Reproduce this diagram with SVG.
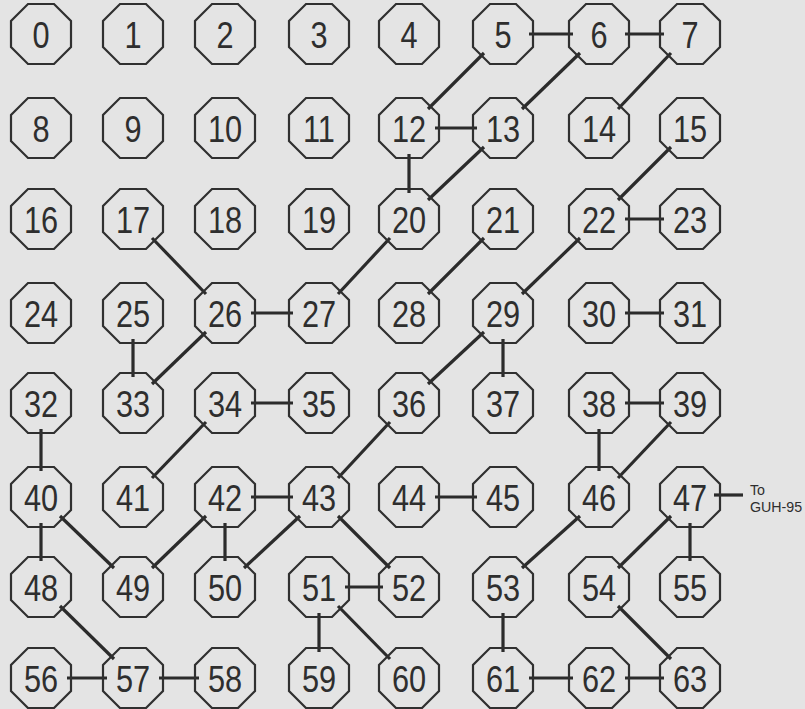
<svg xmlns="http://www.w3.org/2000/svg" xmlns:xlink="http://www.w3.org/1999/xlink" width="805" height="709" viewBox="0 0 805 709">
<style>
.oct{fill:none;stroke:#303030;stroke-width:2.2;stroke-linejoin:miter}
.t{font-family:"Liberation Sans",Arial,sans-serif;font-size:37px;fill:#2e2e2e;text-anchor:middle}
.c line{stroke:#2b2b2b;stroke-width:3.2;stroke-linecap:butt}
.lbl{font-family:"Liberation Sans",Arial,sans-serif;font-size:15px;fill:#2e2e2e}
</style>
<defs>
<polygon id="oct" class="oct" points="-13,-30 13,-30 30,-13 30,13 13,30 -13,30 -30,13 -30,-13"/>
</defs>
<rect width="805" height="709" fill="#e4e4e4"/>
<g id="connectors" class="c">
<line x1="529" y1="34" x2="573" y2="34"/>
<line x1="625" y1="34" x2="664" y2="34"/>
<line x1="484" y1="53" x2="428" y2="109"/>
<line x1="580" y1="53" x2="522" y2="109"/>
<line x1="671" y1="53" x2="618" y2="109"/>
<line x1="435" y1="128" x2="477" y2="128"/>
<line x1="409" y1="154" x2="409" y2="193"/>
<line x1="484" y1="147" x2="428" y2="200"/>
<line x1="671" y1="147" x2="618" y2="200"/>
<line x1="625" y1="219" x2="664" y2="219"/>
<line x1="152" y1="238" x2="206" y2="294"/>
<line x1="390" y1="238" x2="338" y2="294"/>
<line x1="484" y1="238" x2="428" y2="294"/>
<line x1="580" y1="238" x2="522" y2="294"/>
<line x1="251" y1="313" x2="293" y2="313"/>
<line x1="133" y1="339" x2="133" y2="377"/>
<line x1="206" y1="332" x2="152" y2="384"/>
<line x1="484" y1="332" x2="428" y2="384"/>
<line x1="503" y1="339" x2="503" y2="377"/>
<line x1="625" y1="313" x2="664" y2="313"/>
<line x1="251" y1="403" x2="293" y2="403"/>
<line x1="206" y1="422" x2="152" y2="478"/>
<line x1="390" y1="422" x2="338" y2="478"/>
<line x1="625" y1="403" x2="664" y2="403"/>
<line x1="599" y1="429" x2="599" y2="471"/>
<line x1="671" y1="422" x2="618" y2="478"/>
<line x1="41" y1="429" x2="41" y2="471"/>
<line x1="41" y1="523" x2="41" y2="561"/>
<line x1="60" y1="516" x2="114" y2="568"/>
<line x1="251" y1="497" x2="293" y2="497"/>
<line x1="206" y1="516" x2="152" y2="568"/>
<line x1="225" y1="523" x2="225" y2="561"/>
<line x1="300" y1="516" x2="244" y2="568"/>
<line x1="338" y1="516" x2="390" y2="568"/>
<line x1="435" y1="497" x2="477" y2="497"/>
<line x1="580" y1="516" x2="522" y2="568"/>
<line x1="671" y1="516" x2="618" y2="568"/>
<line x1="690" y1="523" x2="690" y2="561"/>
<line x1="714" y1="495" x2="743" y2="495"/>
<line x1="60" y1="606" x2="114" y2="659"/>
<line x1="345" y1="587" x2="383" y2="587"/>
<line x1="319" y1="613" x2="319" y2="652"/>
<line x1="338" y1="606" x2="390" y2="659"/>
<line x1="503" y1="613" x2="503" y2="652"/>
<line x1="618" y1="606" x2="671" y2="659"/>
<line x1="67" y1="678" x2="107" y2="678"/>
<line x1="159" y1="678" x2="199" y2="678"/>
<line x1="529" y1="678" x2="573" y2="678"/>
<line x1="625" y1="678" x2="664" y2="678"/>
</g>
<text class="lbl" transform="translate(750,495) scale(0.95,1)">To</text>
<text class="lbl" transform="translate(750,511.5) scale(0.95,1)">GUH-95</text>
<g id="n0" transform="translate(41,34)"><use href="#oct"/><text class="t" y="13.5" transform="scale(0.83,1)">0</text></g>
<g id="n1" transform="translate(133,34)"><use href="#oct"/><text class="t" y="13.5" transform="scale(0.83,1)">1</text></g>
<g id="n2" transform="translate(225,34)"><use href="#oct"/><text class="t" y="13.5" transform="scale(0.83,1)">2</text></g>
<g id="n3" transform="translate(319,34)"><use href="#oct"/><text class="t" y="13.5" transform="scale(0.83,1)">3</text></g>
<g id="n4" transform="translate(409,34)"><use href="#oct"/><text class="t" y="13.5" transform="scale(0.83,1)">4</text></g>
<g id="n5" transform="translate(503,34)"><use href="#oct"/><text class="t" y="13.5" transform="scale(0.83,1)">5</text></g>
<g id="n6" transform="translate(599,34)"><use href="#oct"/><text class="t" y="13.5" transform="scale(0.83,1)">6</text></g>
<g id="n7" transform="translate(690,34)"><use href="#oct"/><text class="t" y="13.5" transform="scale(0.83,1)">7</text></g>
<g id="n8" transform="translate(41,128)"><use href="#oct"/><text class="t" y="13.5" transform="scale(0.83,1)">8</text></g>
<g id="n9" transform="translate(133,128)"><use href="#oct"/><text class="t" y="13.5" transform="scale(0.83,1)">9</text></g>
<g id="n10" transform="translate(225,128)"><use href="#oct"/><text class="t" y="13.5" transform="scale(0.83,1)">10</text></g>
<g id="n11" transform="translate(319,128)"><use href="#oct"/><text class="t" y="13.5" transform="scale(0.83,1)">11</text></g>
<g id="n12" transform="translate(409,128)"><use href="#oct"/><text class="t" y="13.5" transform="scale(0.83,1)">12</text></g>
<g id="n13" transform="translate(503,128)"><use href="#oct"/><text class="t" y="13.5" transform="scale(0.83,1)">13</text></g>
<g id="n14" transform="translate(599,128)"><use href="#oct"/><text class="t" y="13.5" transform="scale(0.83,1)">14</text></g>
<g id="n15" transform="translate(690,128)"><use href="#oct"/><text class="t" y="13.5" transform="scale(0.83,1)">15</text></g>
<g id="n16" transform="translate(41,219)"><use href="#oct"/><text class="t" y="13.5" transform="scale(0.83,1)">16</text></g>
<g id="n17" transform="translate(133,219)"><use href="#oct"/><text class="t" y="13.5" transform="scale(0.83,1)">17</text></g>
<g id="n18" transform="translate(225,219)"><use href="#oct"/><text class="t" y="13.5" transform="scale(0.83,1)">18</text></g>
<g id="n19" transform="translate(319,219)"><use href="#oct"/><text class="t" y="13.5" transform="scale(0.83,1)">19</text></g>
<g id="n20" transform="translate(409,219)"><use href="#oct"/><text class="t" y="13.5" transform="scale(0.83,1)">20</text></g>
<g id="n21" transform="translate(503,219)"><use href="#oct"/><text class="t" y="13.5" transform="scale(0.83,1)">21</text></g>
<g id="n22" transform="translate(599,219)"><use href="#oct"/><text class="t" y="13.5" transform="scale(0.83,1)">22</text></g>
<g id="n23" transform="translate(690,219)"><use href="#oct"/><text class="t" y="13.5" transform="scale(0.83,1)">23</text></g>
<g id="n24" transform="translate(41,313)"><use href="#oct"/><text class="t" y="13.5" transform="scale(0.83,1)">24</text></g>
<g id="n25" transform="translate(133,313)"><use href="#oct"/><text class="t" y="13.5" transform="scale(0.83,1)">25</text></g>
<g id="n26" transform="translate(225,313)"><use href="#oct"/><text class="t" y="13.5" transform="scale(0.83,1)">26</text></g>
<g id="n27" transform="translate(319,313)"><use href="#oct"/><text class="t" y="13.5" transform="scale(0.83,1)">27</text></g>
<g id="n28" transform="translate(409,313)"><use href="#oct"/><text class="t" y="13.5" transform="scale(0.83,1)">28</text></g>
<g id="n29" transform="translate(503,313)"><use href="#oct"/><text class="t" y="13.5" transform="scale(0.83,1)">29</text></g>
<g id="n30" transform="translate(599,313)"><use href="#oct"/><text class="t" y="13.5" transform="scale(0.83,1)">30</text></g>
<g id="n31" transform="translate(690,313)"><use href="#oct"/><text class="t" y="13.5" transform="scale(0.83,1)">31</text></g>
<g id="n32" transform="translate(41,403)"><use href="#oct"/><text class="t" y="13.5" transform="scale(0.83,1)">32</text></g>
<g id="n33" transform="translate(133,403)"><use href="#oct"/><text class="t" y="13.5" transform="scale(0.83,1)">33</text></g>
<g id="n34" transform="translate(225,403)"><use href="#oct"/><text class="t" y="13.5" transform="scale(0.83,1)">34</text></g>
<g id="n35" transform="translate(319,403)"><use href="#oct"/><text class="t" y="13.5" transform="scale(0.83,1)">35</text></g>
<g id="n36" transform="translate(409,403)"><use href="#oct"/><text class="t" y="13.5" transform="scale(0.83,1)">36</text></g>
<g id="n37" transform="translate(503,403)"><use href="#oct"/><text class="t" y="13.5" transform="scale(0.83,1)">37</text></g>
<g id="n38" transform="translate(599,403)"><use href="#oct"/><text class="t" y="13.5" transform="scale(0.83,1)">38</text></g>
<g id="n39" transform="translate(690,403)"><use href="#oct"/><text class="t" y="13.5" transform="scale(0.83,1)">39</text></g>
<g id="n40" transform="translate(41,497)"><use href="#oct"/><text class="t" y="13.5" transform="scale(0.83,1)">40</text></g>
<g id="n41" transform="translate(133,497)"><use href="#oct"/><text class="t" y="13.5" transform="scale(0.83,1)">41</text></g>
<g id="n42" transform="translate(225,497)"><use href="#oct"/><text class="t" y="13.5" transform="scale(0.83,1)">42</text></g>
<g id="n43" transform="translate(319,497)"><use href="#oct"/><text class="t" y="13.5" transform="scale(0.83,1)">43</text></g>
<g id="n44" transform="translate(409,497)"><use href="#oct"/><text class="t" y="13.5" transform="scale(0.83,1)">44</text></g>
<g id="n45" transform="translate(503,497)"><use href="#oct"/><text class="t" y="13.5" transform="scale(0.83,1)">45</text></g>
<g id="n46" transform="translate(599,497)"><use href="#oct"/><text class="t" y="13.5" transform="scale(0.83,1)">46</text></g>
<g id="n47" transform="translate(690,497)"><use href="#oct"/><text class="t" y="13.5" transform="scale(0.83,1)">47</text></g>
<g id="n48" transform="translate(41,587)"><use href="#oct"/><text class="t" y="13.5" transform="scale(0.83,1)">48</text></g>
<g id="n49" transform="translate(133,587)"><use href="#oct"/><text class="t" y="13.5" transform="scale(0.83,1)">49</text></g>
<g id="n50" transform="translate(225,587)"><use href="#oct"/><text class="t" y="13.5" transform="scale(0.83,1)">50</text></g>
<g id="n51" transform="translate(319,587)"><use href="#oct"/><text class="t" y="13.5" transform="scale(0.83,1)">51</text></g>
<g id="n52" transform="translate(409,587)"><use href="#oct"/><text class="t" y="13.5" transform="scale(0.83,1)">52</text></g>
<g id="n53" transform="translate(503,587)"><use href="#oct"/><text class="t" y="13.5" transform="scale(0.83,1)">53</text></g>
<g id="n54" transform="translate(599,587)"><use href="#oct"/><text class="t" y="13.5" transform="scale(0.83,1)">54</text></g>
<g id="n55" transform="translate(690,587)"><use href="#oct"/><text class="t" y="13.5" transform="scale(0.83,1)">55</text></g>
<g id="n56" transform="translate(41,678)"><use href="#oct"/><text class="t" y="13.5" transform="scale(0.83,1)">56</text></g>
<g id="n57" transform="translate(133,678)"><use href="#oct"/><text class="t" y="13.5" transform="scale(0.83,1)">57</text></g>
<g id="n58" transform="translate(225,678)"><use href="#oct"/><text class="t" y="13.5" transform="scale(0.83,1)">58</text></g>
<g id="n59" transform="translate(319,678)"><use href="#oct"/><text class="t" y="13.5" transform="scale(0.83,1)">59</text></g>
<g id="n60" transform="translate(409,678)"><use href="#oct"/><text class="t" y="13.5" transform="scale(0.83,1)">60</text></g>
<g id="n61" transform="translate(503,678)"><use href="#oct"/><text class="t" y="13.5" transform="scale(0.83,1)">61</text></g>
<g id="n62" transform="translate(599,678)"><use href="#oct"/><text class="t" y="13.5" transform="scale(0.83,1)">62</text></g>
<g id="n63" transform="translate(690,678)"><use href="#oct"/><text class="t" y="13.5" transform="scale(0.83,1)">63</text></g>
</svg>
